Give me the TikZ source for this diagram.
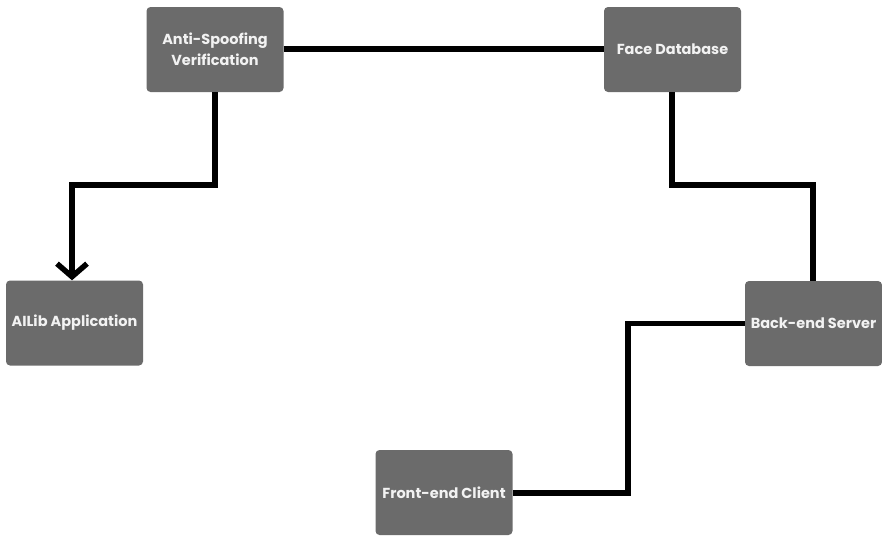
\documentclass[tikz,border=0pt]{standalone}
\usepackage{fontspec}
\setmainfont{Poppins}
\usetikzlibrary{arrows.meta}
\definecolor{boxgray}{HTML}{6B6B6B}
\definecolor{txtwhite}{HTML}{F2F2F2}
\tikzset{
  block/.style={draw=none, fill=boxgray, rounded corners=4pt, minimum width=137pt, minimum height=85pt, inner sep=0pt, text=txtwhite, font=\fontsize{14.5}{21}\selectfont\bfseries, align=center},
  wire/.style={line width=5.5pt, black, line join=miter},
}
\begin{document}
\begin{tikzpicture}[x=1pt,y=-1pt]
\useasboundingbox (0,0) rectangle (882,538);
\node[block] (anti) at (215,49.5) {Anti-Spoofing\\Verification};
\node[block] (face) at (672.5,49.5) {Face Database};
\node[block] (ailib) at (74.5,323) {AILib Application};
\node[block] (back) at (813.5,323.5) {Back-end Server};
\node[block] (front) at (444,492.5) {Front-end Client};
\coordinate (c1) at (215,185);
\coordinate (c2) at (72,185);
\coordinate (c3) at (672,185);
\coordinate (c4) at (813,185);
\coordinate (c5) at (628,323.5);
\coordinate (c6) at (628,493);
\draw[wire] (anti.east |- 0,49) -- (face.west |- 0,49);
\draw[wire, -{Straight Barb[length=13pt,width=30pt,line width=5.5pt]}] (anti.south) -- (c1) -- (c2) -- (ailib.north -| c2);
\draw[wire] (face.south -| c3) -- (c3) -- (c4) -- (back.north -| c4);
\draw[wire] (back.west) -- (c5) -- (c6) -- (front.east |- c6);
\end{tikzpicture}
\end{document}
